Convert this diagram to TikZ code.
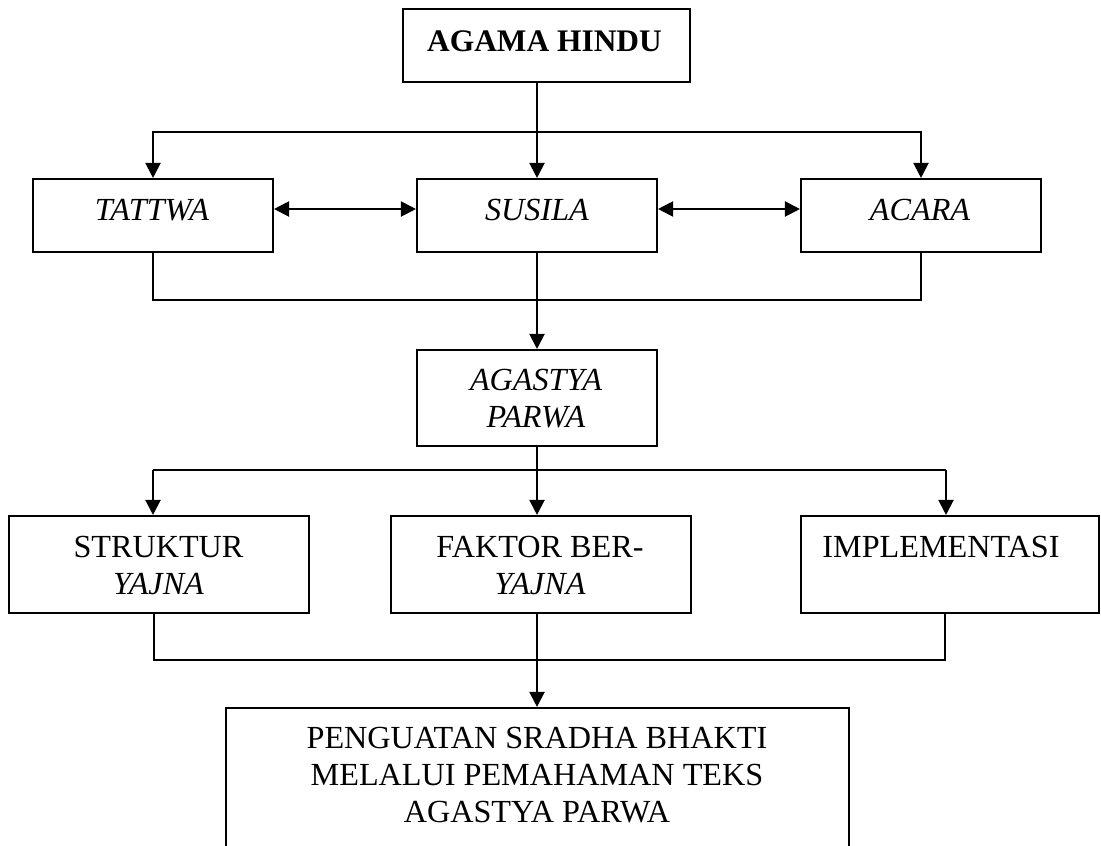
\documentclass[tikz,border=0pt]{standalone}
\usepackage{fontspec}
\setmainfont{Liberation Serif}
\usetikzlibrary{arrows.meta}
\begin{document}
\begin{tikzpicture}[x=1pt,y=-1pt,
  box/.style={draw,line width=2.1pt,inner sep=0pt},
  txt/.style={anchor=base,inner sep=0pt,font=\fontsize{32.2}{37}\selectfont},
  itxt/.style={txt,font=\fontsize{32.2}{37}\selectfont\itshape},
  conn/.style={line width=2.1pt},
  arr/.style={conn,-{Triangle[length=15pt,width=15pt]}},
  darr/.style={conn,{Triangle[length=15pt,width=15pt]}-{Triangle[length=15pt,width=15pt]}}]
\useasboundingbox (0,0) rectangle (1101,846);
% boxes
\node[box,minimum width=287pt,minimum height=73pt] (agama) at (546.5,45.5) {};
\node[box,minimum width=240pt,minimum height=73pt] (tattwa) at (153,215.5) {};
\node[box,minimum width=240pt,minimum height=73pt] (susila) at (537,215.5) {};
\node[box,minimum width=240pt,minimum height=73pt] (acara) at (921,215.5) {};
\node[box,minimum width=240pt,minimum height=96pt] (agastya) at (537,398) {};
\node[box,minimum width=300pt,minimum height=97pt] (struktur) at (159,564.5) {};
\node[box,minimum width=300pt,minimum height=97pt] (faktor) at (541,564.5) {};
\node[box,minimum width=298pt,minimum height=97pt] (impl) at (950,564.5) {};
\node[box,minimum width=623pt,minimum height=180pt] (final) at (537.5,798) {};
% texts
\node[txt,font=\fontsize{31.4}{37}\selectfont\bfseries] (tagama) at (544.5,51) {AGAMA HINDU};
\node[itxt] (ttattwa) at (152,220) {TATTWA};
\node[itxt] (tsusila) at (537,220) {SUSILA};
\node[itxt] (tacara) at (920,220) {ACARA};
\node[itxt] (tagastya1) at (536,390) {AGASTYA};
\node[itxt] (tagastya2) at (536,427) {PARWA};
\node[txt] (tstruk1) at (158.5,557) {STRUKTUR};
\node[itxt] (tstruk2) at (158.5,594) {YAJNA};
\node[txt] (tfak1) at (540,557) {FAKTOR BER-};
\node[itxt] (tfak2) at (540,594) {YAJNA};
\node[txt] (timpl) at (941,557) {IMPLEMENTASI};
\node[txt] (tfin1) at (537,748) {PENGUATAN SRADHA BHAKTI};
\node[txt] (tfin2) at (537,785) {MELALUI PEMAHAMAN TEKS};
\node[txt] (tfin3) at (537,822) {AGASTYA PARWA};
% junction coordinates
\coordinate (b1) at (537,132);
\coordinate (j1) at (537,300);
\coordinate (b2) at (537,470);
\coordinate (b2l) at (153,470);
\coordinate (b2r) at (946,470);
\coordinate (j2l) at (154,660);
\coordinate (j2r) at (945,660);
% connectors
\draw[arr] (agama.south -| susila.north) -- (susila.north);
\draw[arr] (b1) -| (tattwa.north);
\draw[arr] (b1) -| (acara.north);
\draw[darr] ([yshift=6.5pt]tattwa.east) -- ([yshift=6.5pt]susila.west);
\draw[darr] ([yshift=6.5pt]susila.east) -- ([yshift=6.5pt]acara.west);
\draw[conn] (tattwa.south) |- (j1) -| (acara.south);
\draw[arr] (susila.south) -- (agastya.north);
\draw[conn] (agastya.south) -- (b2);
\draw[conn] (b2l) -- (b2r);
\draw[arr] (b2) -- (b2 |- faktor.north);
\draw[arr] (b2l) -- (b2l |- struktur.north);
\draw[arr] (b2r) -- (b2r |- impl.north);
\draw[conn] (j2l |- struktur.south) -- (j2l) -- (j2r) -- (j2r |- impl.south);
\draw[arr] (b2 |- faktor.south) -- (b2 |- final.north);
\end{tikzpicture}
\end{document}
